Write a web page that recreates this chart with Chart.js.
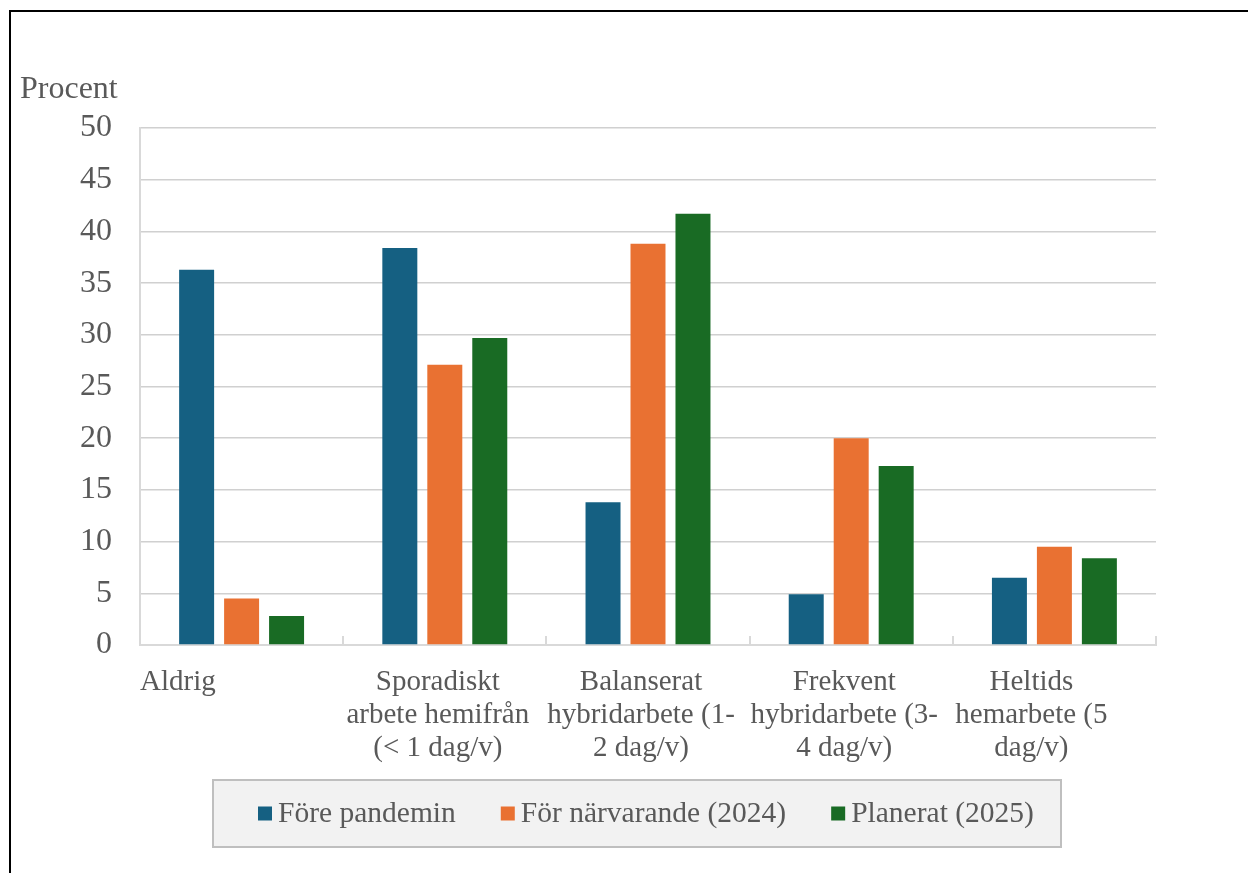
<!DOCTYPE html>
<html>
<head>
<meta charset="utf-8">
<script src="https://cdn.jsdelivr.net/npm/chart.js@4.4.1/dist/chart.umd.min.js"></script>
<style>
  html, body { margin: 0; padding: 0; background: #fff; overflow: hidden; }
  #wrap { position: absolute; left: 0; top: 0; width: 1248px; height: 873px; }
  #frame { position: absolute; left: 9px; top: 10px; width: 1250px; height: 880px;
           border-top: 2px solid #000; border-left: 2px solid #000; }
  canvas { position: absolute; left: 0; top: 0; }
</style>
</head>
<body>
<div id="wrap">
  <div id="frame"></div>
  <canvas id="chart" width="1248" height="873"></canvas>
</div>
<script>
// Categories (wrapped onto several lines under the axis)
const categories = [
  ['Aldrig'],
  ['Sporadiskt', 'arbete hemifrån', '(< 1 dag/v)'],
  ['Balanserat', 'hybridarbete (1-', '2 dag/v)'],
  ['Frekvent', 'hybridarbete (3-', '4 dag/v)'],
  ['Heltids', 'hemarbete (5', 'dag/v)']
];
const seriesNames = ['Före pandemin', 'För närvarande (2024)', 'Planerat (2025)'];
const forePandemin = [36.3, 38.4, 13.8, 4.9, 6.5];
const nuvarande2024 = [4.5, 27.1, 38.8, 20.0, 9.5];
const planerat2025 = [2.8, 29.7, 41.7, 17.3, 8.4];
const yTickValues = [0, 5, 10, 15, 20, 25, 30, 35, 40, 45, 50];
const yAxisTitle = 'Procent';

const seriesColors = ['#156082', '#E97132', '#196B24'];
const FONT = '"Liberation Serif", "Times New Roman", serif';
const TEXT = '#595959';

const overlay = {
  id: 'overlay',
  afterDraw(chart) {
    const ctx = chart.ctx;
    const area = chart.chartArea;
    const xs = chart.scales.x;
    const half = (xs.getPixelForValue(1) - xs.getPixelForValue(0)) / 2;
    ctx.save();

    // small category separators rising from the base line
    ctx.strokeStyle = '#d9d9d9';
    ctx.lineWidth = 2;
    for (let i = 0; i < categories.length; i++) {
      const bx = Math.round(xs.getPixelForValue(i) + half);
      ctx.beginPath();
      ctx.moveTo(bx, area.bottom);
      ctx.lineTo(bx, area.bottom - 9);
      ctx.stroke();
    }

    // category labels
    ctx.fillStyle = TEXT;
    ctx.font = '29px ' + FONT;
    ctx.textBaseline = 'alphabetic';
    const lineH = 33;
    categories.forEach((lines, i) => {
      let x = xs.getPixelForValue(i) - 7;
      let align = 'center';
      if (i === 0) { x = area.left; align = 'left'; }
      if (i === categories.length - 1) { x = xs.getPixelForValue(i) - 23; }
      ctx.textAlign = align;
      lines.forEach((t, k) => ctx.fillText(t, x, area.bottom + 45 + k * lineH));
    });

    // axis title above the value axis
    ctx.textAlign = 'left';
    ctx.font = '32px ' + FONT;
    ctx.fillText(yAxisTitle, 20, 98);

    // legend box
    const bx = 213, by = 780, bw = 848, bh = 67;
    ctx.fillStyle = '#f2f2f2';
    ctx.fillRect(bx, by, bw, bh);
    ctx.strokeStyle = '#bfbfbf';
    ctx.lineWidth = 2;
    ctx.strokeRect(bx, by, bw, bh);
    ctx.font = '29.5px ' + FONT;
    ctx.textBaseline = 'middle';
    let lx = bx + 45;
    const cy = by + bh / 2;
    chart.data.datasets.forEach((ds, i) => {
      ctx.fillStyle = ds.backgroundColor;
      ctx.fillRect(lx, cy - 7, 14, 14);
      ctx.fillStyle = TEXT;
      ctx.fillText(ds.label, lx + 20, cy + 1);
      lx += 20 + ctx.measureText(ds.label).width + 45;
    });
    ctx.restore();
  }
};

new Chart(document.getElementById('chart'), {
  type: 'bar',
  data: {
    labels: categories,
    datasets: [
      { label: seriesNames[0], data: forePandemin, backgroundColor: seriesColors[0] },
      { label: seriesNames[1], data: nuvarande2024, backgroundColor: seriesColors[1] },
      { label: seriesNames[2], data: planerat2025, backgroundColor: seriesColors[2] }
    ]
  },
  options: {
    responsive: false,
    animation: false,
    devicePixelRatio: 1,
    categoryPercentage: 0.664,
    barPercentage: 0.778,
    layout: { padding: { top: 128, right: 92, left: 0, bottom: 0 } },
    plugins: { legend: { display: false }, tooltip: { enabled: false } },
    scales: {
      x: {
        ticks: { display: false },
        grid: { display: false },
        border: { display: true, color: '#d9d9d9', width: 2 },
        afterFit(scale) { scale.height = 228; }
      },
      y: {
        min: 0,
        max: 50,
        afterBuildTicks(scale) { scale.ticks = yTickValues.map(v => ({ value: v })); },
        ticks: { color: TEXT, font: { family: FONT, size: 32 }, padding: 28 },
        grid: { color: '#d0d0d0', lineWidth: 1.5, drawTicks: false },
        border: { display: true, color: '#d9d9d9', width: 2 },
        afterFit(scale) { scale.width = 140; }
      }
    }
  },
  plugins: [overlay]
});
</script>
</body>
</html>
